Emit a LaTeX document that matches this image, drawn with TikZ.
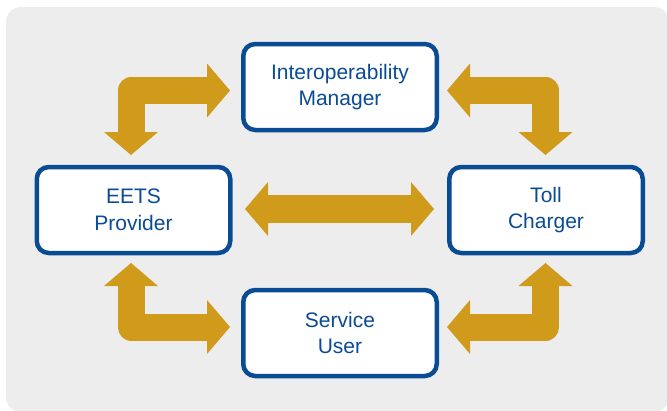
\documentclass[tikz,border=0pt]{standalone}
\usepackage{fontspec}
\setmainfont{Liberation Sans}
\usetikzlibrary{arrows.meta}
\definecolor{bgray}{HTML}{EDEDED}
\definecolor{bblue}{HTML}{0A4C94}
\definecolor{gold}{HTML}{D09A1A}
\begin{document}
\begin{tikzpicture}[x=1pt,y=-1pt,
  entity/.style={draw=bblue, line width=4.5pt, fill=white, rounded corners=12pt,
    minimum width=193.5pt, minimum height=86pt, align=center, text=bblue,
    font=\fontsize{21}{26.5}\selectfont, inner sep=0pt},
  goldtip/.style={Triangle[width=54pt,length=23pt,line width=0pt,fill=gold]},
  biarrow/.style={draw=gold, line width=27pt, line join=round,
    {Triangle[width=54pt,length=23pt,line width=0pt,fill=gold]}-{Triangle[width=54pt,length=23pt,line width=0pt,fill=gold]}}]
\useasboundingbox (0,0) rectangle (667,410);
\fill[bgray, rounded corners=15pt] (6,7) rectangle (669,412);

\node[entity] (mgr)  at (340,87)  {Interoperability\\Manager};
\node[entity] (eets) at (133.5,210) {EETS\\Provider};
\node[entity] (toll) at (546,210) {Toll\\Charger};
\node[entity] (user) at (340,333) {Service\\User};

\coordinate (tlA) at (131,155);
\coordinate (tlB) at (131,90.5);
\coordinate (tlC) at (230,90.5);
\coordinate (trA) at (447,90.5);
\coordinate (trB) at (545.5,90.5);
\coordinate (trC) at (545.5,155);
\coordinate (blA) at (131,263);
\coordinate (blB) at (131,327);
\coordinate (blC) at (230,327);
\coordinate (brA) at (447,327);
\coordinate (brB) at (545.5,327);
\coordinate (brC) at (545.5,263);
\coordinate (mA) at (245,209);
\coordinate (mB) at (434,209);

\draw[biarrow] (tlA) -- (tlB) -- (tlC);
\draw[biarrow] (trA) -- (trB) -- (trC);
\draw[biarrow] (blA) -- (blB) -- (blC);
\draw[biarrow] (brA) -- (brB) -- (brC);
\draw[biarrow, line width=28pt] (mA) -- (mB);
\end{tikzpicture}
\end{document}
